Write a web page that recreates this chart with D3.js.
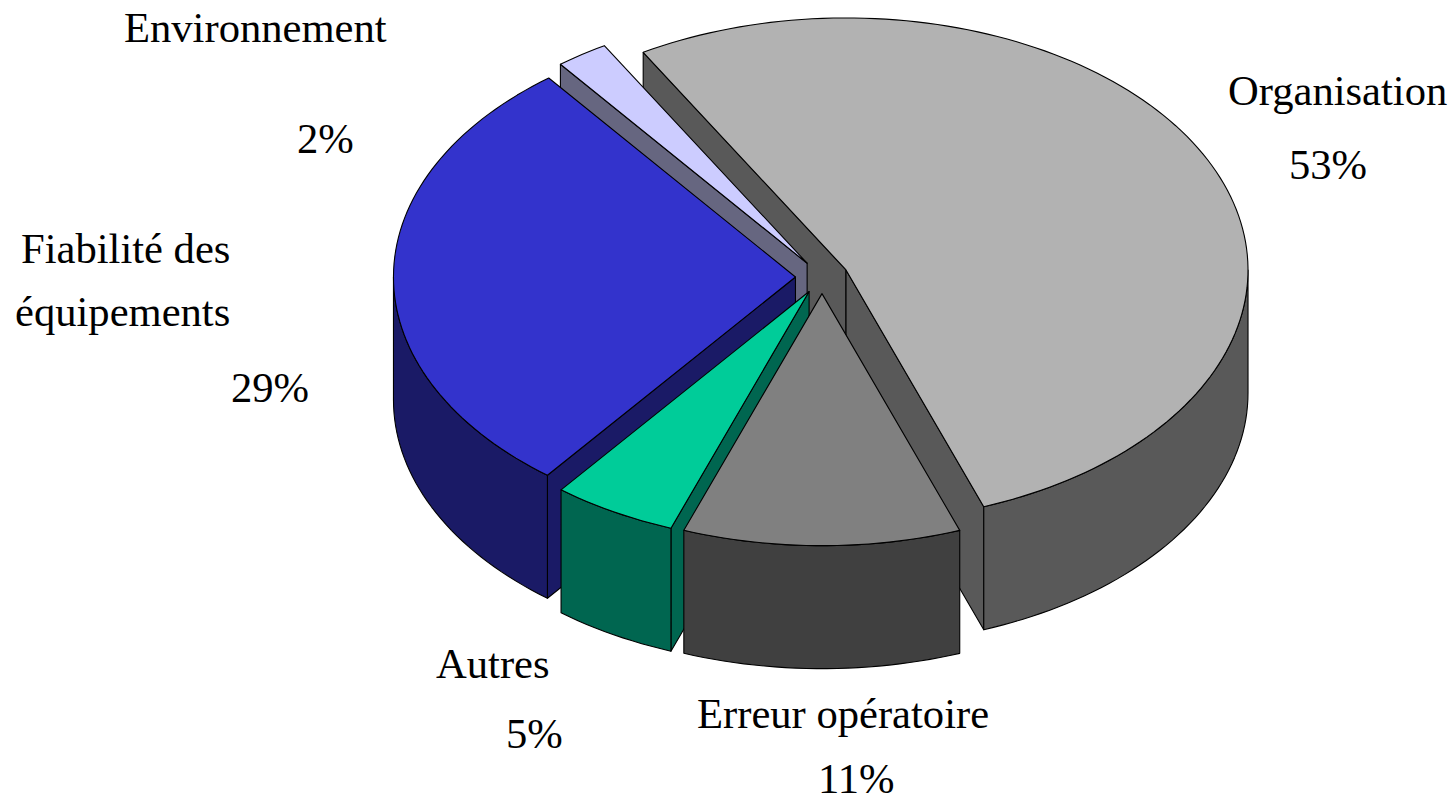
<!DOCTYPE html>
<html>
<head>
<meta charset="utf-8">
<title>Causes</title>
<style>
  html, body { margin: 0; padding: 0; background: #fff; }
  svg { display: block; }
  text { font-family: "Liberation Serif", serif; font-size: 42.6px; fill: #000; }
</style>
</head>
<body>
<script src="https://d3js.org/d3.v7.min.js"></script>
<script>
const categories = ["Organisation", "Erreur opératoire", "Autres", "Fiabilité des équipements", "Environnement"];
// the labels show them rounded
const values = [52.85, 11.15, 5, 28.9, 2.1];
const topColors = ["#b2b2b2", "#808080", "#00cc99", "#3333cc", "#ccccff"];
const sideColors = ["#595959", "#404040", "#006650", "#1a1a66", "#666680"];

const w = 1454, h = 799;
const cx = 822, cy = 277, rx = 402, ry = 252, depth = 123;
const explode = 0.066;
const rad = Math.PI / 180;

// unit circle -> screen, the tilt is just a different y range
const xScale = d3.scaleLinear().domain([-1, 1]).range([cx - rx, cx + rx]);
const yScale = d3.scaleLinear().domain([-1, 1]).range([cy - ry, cy + ry]);

const pie = d3.pie().sort(null)
  .startAngle(-30.3 * rad)
  .endAngle(329.7 * rad);
const slices = pie(values);

const line = d3.line();
const svg = d3.select("body").append("svg").attr("width", w).attr("height", h);

function pt(d, a, r, down) {
  const mid = (d.startAngle + d.endAngle) / 2;
  const ux = explode * Math.sin(mid) + r * Math.sin(a);
  const uy = -explode * Math.cos(mid) - r * Math.cos(a);
  return [xScale(ux), yScale(uy) + (down ? depth : 0)];
}

function arcAngles(a0, a1) {
  const n = Math.max(2, Math.ceil((a1 - a0) / (1.5 * rad)));
  return d3.range(n + 1).map(i => a0 + (a1 - a0) * i / n);
}

function face(points, fill) {
  svg.append("path")
    .attr("d", line(points) + "Z")
    .attr("fill", fill)
    .attr("stroke", "#000")
    .attr("stroke-width", 1.1)
    .attr("stroke-linejoin", "round");
}

// back to front
const order = [0, 4, 3, 2, 1];
order.forEach(i => {
  const d = slices[i];
  const a0 = d.startAngle, a1 = d.endAngle;
  const side = sideColors[i];

  // cut faces, only those turned towards the viewer
  if (Math.cos(a0 - Math.PI / 2) < 0 && i !== 1) {
    face([pt(d, a0, 0), pt(d, a0, 1), pt(d, a0, 1, true), pt(d, a0, 0, true)], side);
  }
  if (Math.cos(a1 + Math.PI / 2) < 0 && i !== 1) {
    face([pt(d, a1, 0), pt(d, a1, 1), pt(d, a1, 1, true), pt(d, a1, 0, true)], side);
  }

  // rim, front half only
  const r0 = Math.max(a0, 90 * rad), r1 = Math.min(a1, 270 * rad);
  if (r1 > r0) {
    const as = arcAngles(r0, r1);
    face(as.map(a => pt(d, a, 1)).concat(as.slice().reverse().map(a => pt(d, a, 1, true))), side);
  }

  // top
  face([pt(d, a0, 0)].concat(arcAngles(a0, a1).map(a => pt(d, a, 1))), topColors[i]);
});

const pct = i => Math.round(values[i]) + "%";

// labels, each line placed by hand like in the original
const labelLines = [
  { text: categories[0], x: 1228, y: 105 },
  { text: pct(0), x: 1289, y: 179 },
  { text: categories[4], x: 124, y: 42 },
  { text: pct(4), x: 297, y: 153 },
  { text: "Fiabilité des", x: 21, y: 263 },
  { text: "équipements", x: 15, y: 326 },
  { text: pct(3), x: 231, y: 402 },
  { text: categories[2], x: 436, y: 678 },
  { text: pct(2), x: 506, y: 748 },
  { text: categories[1], x: 697, y: 728 },
  { text: pct(1), x: 818, y: 793 }
];

svg.selectAll("text.label")
  .data(labelLines)
  .enter()
  .append("text")
  .attr("class", "label")
  .attr("x", d => d.x)
  .attr("y", d => d.y)
  .text(d => d.text);
</script>
</body>
</html>
